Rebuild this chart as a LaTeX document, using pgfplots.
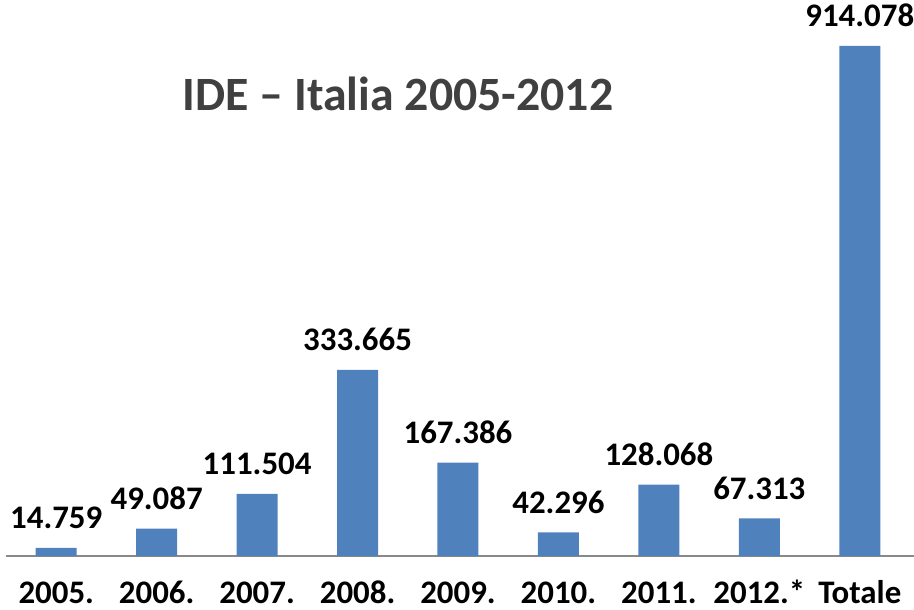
\documentclass[border=0pt]{standalone}
\usepackage{pgfplots}
\pgfplotsset{compat=1.18}
\usepackage{fontspec}
\setmainfont{Carlito}

\definecolor{barblue}{HTML}{4F81BD}
\definecolor{axisgray}{HTML}{898989}
\definecolor{titlegray}{HTML}{404040}

\begin{document}
\begin{tikzpicture}
  % frame of the whole picture (914 x 610)
  \path[use as bounding box] (-6bp,-54bp) rectangle (908bp,556bp);
  \begin{axis}[
      at={(0,0)}, anchor=south west,
      scale only axis,
      width=908bp, height=510bp,
      xmin=-0.5, xmax=8.54,
      ymin=0, ymax=914078,
      ybar, bar width=41bp, bar shift=0pt,
      axis y line=none,
      axis x line*=bottom,
      x axis line style={-, draw=axisgray, line width=2.3bp},
      xtick={0,1,2,3,4,5,6,7,8},
      xticklabels={2005.,2006.,2007.,2008.,2009.,2010.,2011.,2012.*,Totale},
      major tick length=0pt,
      /pgf/number format/assume math mode=true,
      xticklabel style={font=\fontsize{33}{38}\selectfont\bfseries,
        anchor=base, yshift=-47bp, inner sep=0pt},
      nodes near coords,
      point meta=explicit symbolic,
      every node near coord/.append style={font=\fontsize{33}{38}\selectfont\bfseries,
        anchor=base, yshift=19bp, inner sep=0pt, text=black},
      title={IDE -- Italia 2005-2012},
      title style={at={(axis description cs:0.4317,0.861)}, anchor=base,
        inner sep=0pt, font=\fontsize{48}{58}\selectfont\bfseries, text=titlegray},
      clip=false,
    ]
    \addplot[fill=barblue, draw=none] coordinates {
      (0,14759)  [14.759]
      (1,49087)  [49.087]
      (2,111504) [111.504]
      (3,333665) [333.665]
      (4,167386) [167.386]
      (5,42296)  [42.296]
      (6,128068) [128.068]
      (7,67313)  [67.313]
      (8,914078) [914.078]
    };
  \end{axis}
\end{tikzpicture}
\end{document}
